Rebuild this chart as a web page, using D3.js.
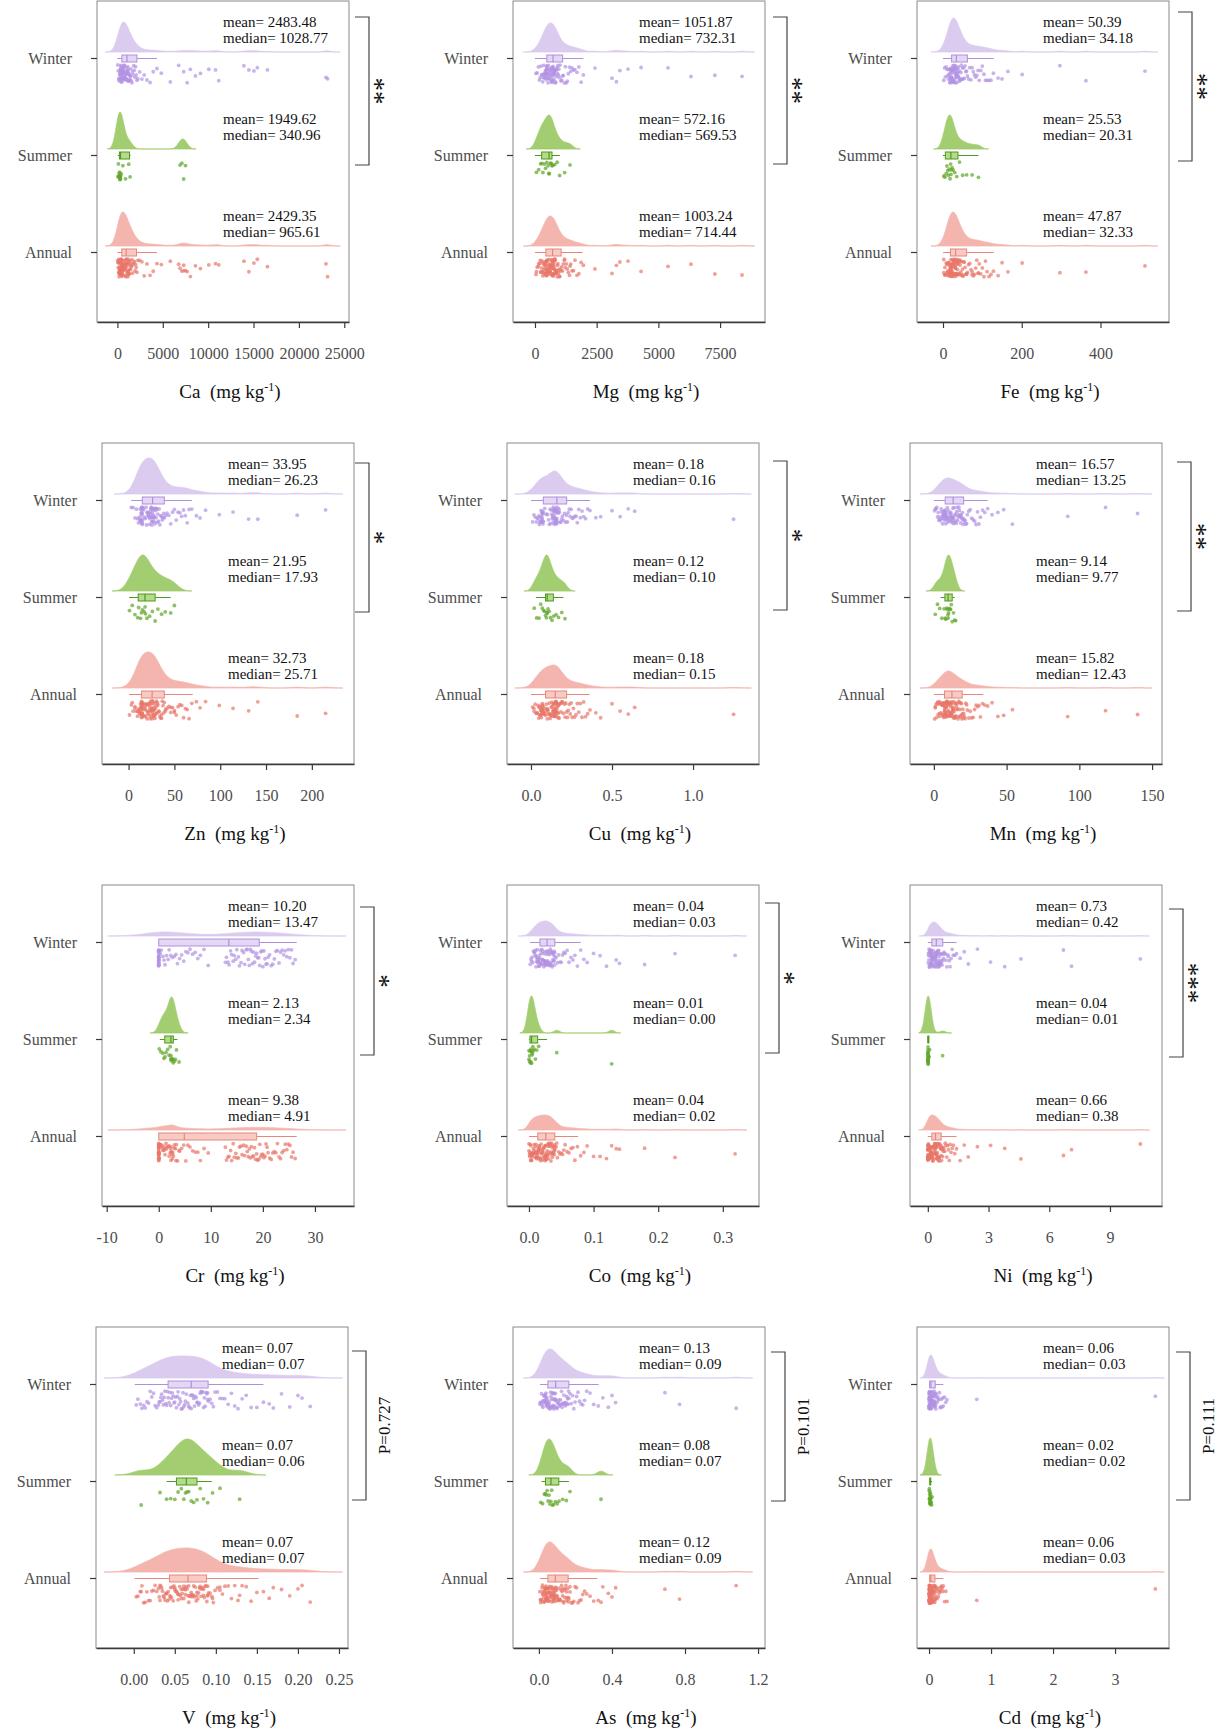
<!DOCTYPE html>
<html>
<head>
<meta charset="utf-8">
<script src="https://cdn.jsdelivr.net/npm/d3@7"></script>
<style>
  body { margin: 0; background: #fff; }
  text { font-family: "Liberation Serif", "Times New Roman", serif; }
</style>
</head>
<body>
<div id="chart"></div>
<script>
// ---------- values ----------
const elements = ["Ca", "Mg", "Fe", "Zn", "Cu", "Mn", "Cr", "Co", "Ni", "V", "As", "Cd"];
const groups = ["Winter", "Summer", "Annual"];
const sigLabels = ["**", "**", "**", "*", "*", "**", "*", "*", "***", "P=0.727", "P=0.101", "P=0.111"];

const meanLabels = [
    ["2483.48", "1949.62", "2429.35"], ["1051.87", "572.16", "1003.24"], ["50.39", "25.53", "47.87"],
    ["33.95", "21.95", "32.73"], ["0.18", "0.12", "0.18"], ["16.57", "9.14", "15.82"],
    ["10.20", "2.13", "9.38"], ["0.04", "0.01", "0.04"], ["0.73", "0.04", "0.66"],
    ["0.07", "0.07", "0.07"], ["0.13", "0.08", "0.12"], ["0.06", "0.02", "0.06"]
];
const medianLabels = [
    ["1028.77", "340.96", "965.61"], ["732.31", "569.53", "714.44"], ["34.18", "20.31", "32.33"],
    ["26.23", "17.93", "25.71"], ["0.16", "0.10", "0.15"], ["13.25", "9.77", "12.43"],
    ["13.47", "2.34", "4.91"], ["0.03", "0.00", "0.02"], ["0.42", "0.01", "0.38"],
    ["0.07", "0.06", "0.07"], ["0.09", "0.07", "0.09"], ["0.03", "0.02", "0.03"]
];

const xTicks = [
    [0, 5000, 10000, 15000, 20000, 25000], [0, 2500, 5000, 7500], [0, 200, 400],
    [0, 50, 100, 150, 200], [0, 0.5, 1.0], [0, 50, 100, 150],
    [-10, 0, 10, 20, 30], [0, 0.1, 0.2, 0.3], [0, 3, 6, 9],
    [0, 0.05, 0.1, 0.15, 0.2, 0.25], [0, 0.4, 0.8, 1.2], [0, 1, 2, 3]
];
const xTickLabels = [
    ["0", "5000", "10000", "15000", "20000", "25000"], ["0", "2500", "5000", "7500"], ["0", "200", "400"],
    ["0", "50", "100", "150", "200"], ["0.0", "0.5", "1.0"], ["0", "50", "100", "150"],
    ["-10", "0", "10", "20", "30"], ["0.0", "0.1", "0.2", "0.3"], ["0", "3", "6", "9"],
    ["0.00", "0.05", "0.10", "0.15", "0.20", "0.25"], ["0.0", "0.4", "0.8", "1.2"], ["0", "1", "2", "3"]
];
const xDomains = [
    [-2250, 25520], [-890, 9320], [-66, 574],
    [-29, 246], [-0.148, 1.407], [-16.4, 156.8],
    [-10.9, 37.5], [-0.034, 0.356], [-0.88, 11.57],
    [-0.046, 0.261], [-0.142, 1.238], [-0.194, 3.87]
];

// box plot stats: [lower whisker, Q1, median, Q3, upper whisker]
const boxWinter = [
    [0, 490, 1050, 2150, 4360], [0, 480, 732, 1120, 1960], [0, 22, 34, 62, 129],
    [3, 15, 26.2, 39, 69], [0, 0.076, 0.16, 0.22, 0.364], [0, 7.8, 13.25, 20.5, 37],
    [0, 0, 13.47, 19.3, 26.5], [0.0015, 0.017, 0.028, 0.040, 0.08], [0, 0.2, 0.42, 0.74, 1.42],
    [0.0012, 0.0418, 0.07, 0.0906, 0.158], [0.006, 0.049, 0.092, 0.164, 0.327], [0, 0.01, 0.03, 0.1, 0.23]
];
const boxSummer = [
    [50, 220, 341, 1330, 1450], [0, 270, 570, 690, 1010], [0, 6, 20, 38, 90],
    [0.5, 10.5, 17.9, 29, 46], [0.03, 0.09, 0.10, 0.138, 0.2], [4.6, 7.6, 9.77, 12.6, 14.3],
    [0.2, 1.15, 2.34, 2.8, 3.6], [0, 0.0015, 0.004, 0.0135, 0.028], [0, 0.004, 0.01, 0.021, 0.04],
    [0.04, 0.052, 0.064, 0.077, 0.095], [0.015, 0.036, 0.066, 0.109, 0.164], [0.003, 0.012, 0.02, 0.027, 0.05]
];
const boxAnnual = [
    [0, 480, 965, 2100, 4360], [0, 440, 714, 1060, 1930], [0, 19, 32, 60, 129],
    [0.5, 14, 25.7, 39, 70], [0, 0.09, 0.15, 0.22, 0.36], [0, 7.3, 12.43, 19.5, 34],
    [0, 0, 4.91, 18.8, 26.5], [0, 0.0136, 0.026, 0.040, 0.076], [0, 0.2, 0.38, 0.66, 1.42],
    [0.001, 0.0435, 0.066, 0.0887, 0.152], [0.006, 0.049, 0.09, 0.16, 0.32], [0, 0.01, 0.03, 0.095, 0.23]
];

// share of winter / summer samples in the annual set
const annualShare = [0.9, 0.1];

// individual samples (annual = winter + summer)
const winterValues = [
    [40, 90, 140, 180, 220, 250, 280, 305, 330, 350, 370, 385, 400, 412, 424, 435, 445, 455, 462, 468, 474, 479, 483, 487, 490,
     510, 530, 550, 570, 590, 610, 630, 650, 670, 690, 710, 730, 750, 770, 790, 810, 830, 850, 875, 900, 925, 950, 980, 1010, 1040,
     1065, 1085, 1105, 1125, 1150, 1175, 1200, 1230, 1260, 1290, 1320, 1360, 1400, 1440, 1490, 1540, 1600, 1660, 1720, 1790, 1860, 1930, 2000, 2070, 2150,
     2250, 2450, 2700, 2950, 3250, 3600, 3950, 4360,
     4840, 5830, 6750, 7300, 7680, 8040, 8600, 9150, 10070, 10810, 11170, 13940, 14490, 15040, 15420, 16530, 22980, 23160],
    [40, 90, 140, 180, 215, 245, 270, 295, 315, 335, 355, 372, 388, 402, 415, 427, 437, 446, 454, 461, 467, 472, 476, 479, 481,
     490, 500, 510, 520, 530, 545, 560, 575, 590, 600, 610, 620, 630, 640, 650, 660, 670, 680, 690, 700, 705, 712, 720, 728, 735,
     742, 750, 758, 766, 774, 782, 790, 800, 810, 820, 830, 842, 855, 868, 882, 897, 913, 930, 950, 972, 995, 1020, 1050, 1085, 1118,
     1150, 1190, 1230, 1270, 1310, 1350, 1400, 1450, 1500, 1560, 1620, 1700, 1780, 1870, 1960,
     2430, 3120, 3300, 3440, 3770, 4300, 5390, 6320, 7290, 8390],
    [2, 4, 6, 8, 10, 11.5, 13, 14, 15, 16, 16.8, 17.5, 18.2, 18.8, 19.3, 19.8, 20.2, 20.6, 21, 21.3, 21.5, 21.7, 21.8, 21.9, 22,
     22.3, 22.8, 23.3, 23.8, 24.3, 24.8, 25.3, 25.8, 26.3, 26.8, 27.3, 27.8, 28.3, 28.8, 29.3, 29.8, 30.3, 30.8, 31.3, 31.8, 32.3, 32.8, 33.3, 33.7, 34,
     34.5, 35, 35.6, 36.2, 36.8, 37.5, 38.2, 39, 39.8, 40.6, 41.5, 42.5, 43.5, 44.5, 45.5, 46.7, 48, 49.5, 51, 52.5, 54, 56, 58, 60, 62,
     65, 68, 71, 74, 77, 80, 83, 86, 89, 92, 96, 100, 104, 108, 112, 117, 122, 128,
     140, 150, 165, 201, 297, 363, 513],
    [3, 5, 7, 8.5, 9.8, 10.8, 11.6, 12.2, 12.7, 13.1, 13.4, 13.7, 13.9, 14.1, 14.3, 14.4, 14.5, 14.6, 14.7, 14.8, 14.85, 14.9, 14.95, 15, 15,
     15.5, 16.5, 17.5, 18.3, 19, 19.6, 20.2, 20.7, 21.2, 21.7, 22.1, 22.5, 22.9, 23.3, 23.6, 23.9, 24.2, 24.5, 24.8, 25.1, 25.4, 25.6, 25.8, 26, 26.2,
     26.4, 26.7, 27, 27.3, 27.6, 27.9, 28.2, 28.5, 28.8, 29.2, 29.6, 30, 30.5, 31, 31.5, 32, 32.7, 33.4, 34.2, 35, 35.9, 36.8, 37.6, 38.3, 39,
     40.5, 42, 44, 46, 48, 50, 52, 54, 56, 58, 60, 62, 64, 66, 69,
     74, 78, 84, 99, 114, 131, 141, 184, 215],
    [0.010, 0.018, 0.026, 0.033, 0.039, 0.044, 0.048, 0.052, 0.055, 0.058, 0.060, 0.062, 0.064, 0.066, 0.067, 0.068, 0.069, 0.070, 0.071, 0.072, 0.073, 0.074, 0.074, 0.075, 0.076,
     0.085, 0.094, 0.102, 0.108, 0.113, 0.118, 0.122, 0.125, 0.128, 0.131, 0.133, 0.135, 0.137, 0.139, 0.140, 0.141, 0.142, 0.143, 0.144, 0.145, 0.146, 0.147, 0.148, 0.149, 0.150,
     0.151, 0.152, 0.153, 0.154, 0.155, 0.156, 0.157, 0.158, 0.159, 0.160, 0.162, 0.164, 0.166, 0.168, 0.170, 0.173, 0.176, 0.180, 0.184, 0.189, 0.194, 0.200, 0.207, 0.214, 0.220,
     0.225, 0.230, 0.236, 0.242, 0.248, 0.255, 0.262, 0.270, 0.278, 0.286, 0.295, 0.305, 0.315, 0.325, 0.337, 0.350, 0.364,
     0.40, 0.43, 0.50, 0.55, 0.60, 0.64, 1.25],
    [0.5, 1, 1.5, 2, 2.5, 3, 3.4, 3.8, 4.2, 4.6, 5, 5.3, 5.6, 5.9, 6.1, 6.3, 6.5, 6.7, 6.9, 7.1, 7.3, 7.4, 7.5, 7.6, 7.7,
     7.9, 8.1, 8.3, 8.5, 8.7, 8.9, 9.1, 9.3, 9.5, 9.8, 10.1, 10.4, 10.7, 11, 11.3, 11.5, 11.7, 11.9, 12.1, 12.3, 12.5, 12.7, 12.9, 13.1, 13.2,
     13.4, 13.6, 13.9, 14.2, 14.5, 14.8, 15.1, 15.4, 15.7, 16, 16.3, 16.6, 16.9, 17.2, 17.5, 17.8, 18.1, 18.4, 18.7, 19, 19.3, 19.6, 19.9, 20.2, 20.5,
     21, 21.5, 22, 22.5, 23, 24, 25, 26, 27, 28, 29, 30, 31, 32, 33.5, 35, 37,
     40, 44, 48, 54, 92, 118, 140],
    [0, 0, 0, 0, 0, 0, 0, 0, 0, 0, 0, 0, 0, 0, 0, 0, 0, 0, 0, 0,
     0.3, 0.5, 0.8, 1.0, 1.2, 1.5, 1.8, 2.0, 2.3, 2.6, 3.0, 3.3, 3.6, 4.0, 4.4, 4.8, 5.2, 5.6, 6.0, 6.5, 7.0, 7.5, 8.0, 8.7, 9.5,
     12.8, 13.0, 13.3, 13.5, 13.8, 14.0, 14.3, 14.5, 14.8, 15.0, 15.3, 15.5, 15.8, 16.0, 16.3, 16.5, 16.8, 17.0, 17.2, 17.4, 17.6, 17.8, 18.0, 18.2, 18.4,
     18.6, 18.8, 19.0, 19.2, 19.4, 19.6, 19.8, 20.0, 20.2, 20.4, 20.6, 20.8, 21.0, 21.3, 21.6, 21.9, 22.2, 22.5, 22.8, 23.1, 23.4, 23.7, 24.0, 24.3, 24.6,
     24.9, 25.2, 25.5, 25.8, 26.2],
    [0.002, 0.003, 0.004, 0.005, 0.006, 0.007, 0.008, 0.009, 0.010, 0.010, 0.011, 0.011, 0.012, 0.012, 0.013, 0.013, 0.014, 0.014, 0.015, 0.015, 0.015, 0.016, 0.016, 0.017, 0.017,
     0.018, 0.018, 0.019, 0.019, 0.020, 0.020, 0.021, 0.021, 0.022, 0.022, 0.023, 0.023, 0.024, 0.024, 0.025, 0.025, 0.025, 0.026, 0.026, 0.026, 0.027, 0.027, 0.027, 0.028, 0.028,
     0.029, 0.029, 0.030, 0.030, 0.031, 0.031, 0.032, 0.032, 0.033, 0.033, 0.034, 0.034, 0.035, 0.035, 0.036, 0.036, 0.037, 0.037, 0.038, 0.038, 0.039, 0.039, 0.040, 0.040, 0.040,
     0.042, 0.044, 0.046, 0.048, 0.050, 0.052, 0.054, 0.056, 0.059, 0.062, 0.065, 0.068, 0.071, 0.075, 0.080,
     0.085, 0.09, 0.10, 0.11, 0.12, 0.135, 0.14, 0.179, 0.226, 0.319],
    [0.02, 0.03, 0.04, 0.05, 0.06, 0.07, 0.08, 0.09, 0.10, 0.11, 0.12, 0.13, 0.14, 0.145, 0.15, 0.155, 0.16, 0.165, 0.17, 0.175, 0.18, 0.185, 0.19, 0.195, 0.2,
     0.21, 0.22, 0.23, 0.24, 0.25, 0.26, 0.27, 0.28, 0.29, 0.30, 0.31, 0.32, 0.33, 0.34, 0.35, 0.36, 0.37, 0.375, 0.38, 0.39, 0.395, 0.40, 0.405, 0.41, 0.415,
     0.43, 0.44, 0.45, 0.46, 0.47, 0.48, 0.49, 0.50, 0.51, 0.52, 0.53, 0.54, 0.55, 0.56, 0.57, 0.58, 0.60, 0.62, 0.64, 0.65, 0.66, 0.68, 0.70, 0.72, 0.74,
     0.77, 0.80, 0.83, 0.86, 0.90, 0.94, 0.98, 1.02, 1.06, 1.10, 1.15, 1.20, 1.26, 1.33, 1.42,
     1.6, 1.8, 2.0, 2.45, 3.1, 3.8, 4.6, 6.7, 7.1, 10.5],
    [0.003, 0.005, 0.008, 0.010, 0.012, 0.014, 0.016, 0.018, 0.020, 0.022, 0.024, 0.026, 0.028, 0.030, 0.031, 0.032, 0.033, 0.034, 0.035, 0.036, 0.037, 0.038, 0.039, 0.040, 0.041,
     0.042, 0.043, 0.044, 0.045, 0.046, 0.047, 0.048, 0.049, 0.050, 0.051, 0.052, 0.053, 0.054, 0.055, 0.056, 0.057, 0.058, 0.059, 0.060, 0.061, 0.062, 0.063, 0.064, 0.066, 0.067,
     0.068, 0.069, 0.070, 0.071, 0.072, 0.073, 0.074, 0.075, 0.076, 0.077, 0.078, 0.079, 0.080, 0.081, 0.082, 0.083, 0.084, 0.085, 0.086, 0.087, 0.088, 0.089, 0.090, 0.090, 0.091,
     0.093, 0.095, 0.097, 0.099, 0.102, 0.105, 0.108, 0.111, 0.115, 0.119, 0.123, 0.127, 0.132, 0.137, 0.143, 0.150, 0.158,
     0.165, 0.170, 0.180, 0.190, 0.200, 0.205, 0.215],
    [0.005, 0.008, 0.011, 0.014, 0.017, 0.020, 0.022, 0.024, 0.026, 0.028, 0.030, 0.032, 0.034, 0.036, 0.037, 0.038, 0.039, 0.040, 0.041, 0.042, 0.043, 0.044, 0.045, 0.046, 0.048,
     0.050, 0.052, 0.054, 0.056, 0.058, 0.060, 0.062, 0.064, 0.066, 0.068, 0.070, 0.072, 0.074, 0.076, 0.078, 0.079, 0.080, 0.082, 0.083, 0.085, 0.086, 0.087, 0.089, 0.090, 0.091,
     0.094, 0.097, 0.100, 0.103, 0.106, 0.109, 0.112, 0.115, 0.118, 0.121, 0.124, 0.127, 0.130, 0.133, 0.136, 0.139, 0.142, 0.145, 0.148, 0.151, 0.154, 0.157, 0.160, 0.162, 0.164,
     0.170, 0.177, 0.184, 0.191, 0.198, 0.206, 0.214, 0.222, 0.231, 0.240, 0.250, 0.262, 0.280, 0.300, 0.325,
     0.35, 0.38, 0.40, 0.42, 0.69, 0.77, 1.08],
    [0.002, 0.002, 0.003, 0.003, 0.004, 0.004, 0.005, 0.005, 0.005, 0.006, 0.006, 0.006, 0.007, 0.007, 0.007, 0.008, 0.008, 0.008, 0.009, 0.009, 0.009, 0.010, 0.010, 0.010, 0.010,
     0.011, 0.012, 0.013, 0.014, 0.015, 0.016, 0.017, 0.018, 0.019, 0.020, 0.021, 0.022, 0.023, 0.024, 0.025, 0.025, 0.026, 0.026, 0.027, 0.027, 0.028, 0.028, 0.029, 0.029, 0.030,
     0.032, 0.035, 0.038, 0.041, 0.044, 0.047, 0.050, 0.053, 0.056, 0.059, 0.062, 0.065, 0.068, 0.071, 0.074, 0.077, 0.080, 0.083, 0.086, 0.089, 0.092, 0.094, 0.096, 0.098, 0.100,
     0.105, 0.11, 0.115, 0.12, 0.13, 0.14, 0.15, 0.16, 0.17, 0.18, 0.19, 0.20, 0.21, 0.22, 0.23,
     0.25, 0.27, 0.29, 0.77, 3.65]
];
const summerValues = [
    [60, 110, 150, 190, 215, 240, 270, 300, 320, 335, 348, 420, 600, 900, 1250, 1400, 6900, 7100, 7300, 7500],
    [60, 150, 230, 280, 320, 380, 430, 480, 530, 560, 580, 620, 660, 690, 720, 800, 900, 1000, 1200, 1420],
    [2, 5, 8, 10, 12, 14, 16, 18, 19.5, 20.3, 21, 23, 26, 30, 35, 42, 50, 60, 74, 90],
    [1, 4, 7, 10, 11, 13, 14, 15, 17, 18, 18.5, 20, 23, 26, 29, 32, 36, 40, 46, 50],
    [0.02, 0.035, 0.05, 0.06, 0.07, 0.078, 0.085, 0.09, 0.095, 0.10, 0.10, 0.105, 0.112, 0.12, 0.13, 0.14, 0.155, 0.17, 0.19, 0.21],
    [1.0, 2.5, 4, 5.5, 7, 7.8, 8.3, 8.8, 9.3, 9.7, 9.85, 10.1, 10.5, 11, 11.5, 12, 12.6, 13.5, 14.3, 15],
    [0.1, 0.4, 0.8, 1.0, 1.2, 1.4, 1.7, 2.0, 2.2, 2.3, 2.35, 2.4, 2.5, 2.6, 2.7, 2.8, 3.0, 3.2, 3.4, 3.9],
    [0, 0, 0.001, 0.001, 0.002, 0.002, 0.003, 0.003, 0.004, 0.004, 0.005, 0.005, 0.006, 0.007, 0.008, 0.010, 0.012, 0.015, 0.043, 0.128],
    [0.001, 0.002, 0.003, 0.004, 0.005, 0.006, 0.007, 0.008, 0.009, 0.010, 0.011, 0.012, 0.015, 0.02, 0.025, 0.03, 0.04, 0.06, 0.09, 0.73],
    [0.009, 0.032, 0.040, 0.045, 0.050, 0.054, 0.058, 0.061, 0.063, 0.065, 0.067, 0.070, 0.073, 0.077, 0.081, 0.085, 0.090, 0.096, 0.105, 0.129],
    [0.01, 0.02, 0.03, 0.035, 0.04, 0.045, 0.05, 0.055, 0.06, 0.065, 0.07, 0.075, 0.08, 0.09, 0.10, 0.11, 0.13, 0.15, 0.17, 0.34],
    [0.003, 0.005, 0.007, 0.009, 0.01, 0.012, 0.013, 0.015, 0.016, 0.018, 0.019, 0.02, 0.022, 0.024, 0.026, 0.028, 0.03, 0.035, 0.04, 0.05]
];

// ---------- layout ----------
const PANEL_W = 252;
const PANEL_H = 321;
const panelLeft = [97, 513, 917, 102, 507, 910, 102, 507, 910, 96, 513, 917];
const panelTop = [1, 1, 1, 443, 443, 443, 885, 885, 885, 1327, 1327, 1327];
// bracket: x of vertical line, top y, bottom y
const brackets = [
    [369, 17, 165], [787, 17, 164], [1192, 12, 161],
    [369, 463, 612], [787, 461, 610], [1191, 462, 611],
    [374, 907, 1055], [779, 903, 1053], [1183, 909, 1057],
    [366, 1351, 1500], [785, 1352, 1501], [1190, 1352, 1500]
];
// peak height (px) of each half-violin, winter / summer / annual
const violinHeight = [
    [30, 37, 34], [29, 34, 30], [34, 34, 34],
    [36, 36, 36], [23, 36, 23], [16, 36, 17],
    [4, 36, 5], [15, 37, 15], [14, 37, 15],
    [22, 36, 24], [29, 36, 30], [23, 37, 23]
];

// colours: winter, summer, annual
const DENSITY_COLOR = ["#dacbef", "#a2cd70", "#f3b5ad"];
const POINT_COLOR = ["#b293e2", "#5ea527", "#e8766a"];
const BOX_FILL = ["#e3d7f5", "#b5da8c", "#f8cac4"];
const BOX_STROKE = ["#b08fdc", "#4e9a1c", "#e6877d"];
const TEXT_GREY = "#4d4d4d";

// gaussian kernel density (R nrd0 bandwidth with a small floor, cut = 3)
function makeKde(values, minBw) {
    var v = values.slice().sort(d3.ascending);
    var sd = d3.deviation(v) || 0;
    var iqr = d3.quantile(v, 0.75) - d3.quantile(v, 0.25);
    var s = Math.min(sd, iqr / 1.34);
    if (!(s > 0)) s = sd > 0 ? sd : minBw;
    var bw = Math.max(minBw, 0.9 * s * Math.pow(v.length, -0.2));
    var f = function (t) {
        var sum = 0;
        for (var i = 0; i < v.length; i++) {
            var u = (t - v[i]) / bw;
            sum += Math.exp(-0.5 * u * u);
        }
        return sum / (v.length * bw * Math.sqrt(2 * Math.PI));
    };
    return { f: f, lo: v[0] - 3 * bw, hi: v[v.length - 1] + 3 * bw };
}

function sampleCurve(f, lo, hi) {
    var n = 400, out = [];
    for (var i = 0; i <= n; i++) {
        var t = lo + (hi - lo) * i / n;
        out.push([t, f(t)]);
    }
    return out;
}

// fixed vertical jitter for the rain points
function jitter(i, gi, p) {
    var s = Math.sin(i * 127.1 + gi * 311.7 + p * 74.7) * 43758.5453;
    return s - Math.floor(s);
}

var svg = d3.select("#chart")
    .append("svg")
    .attr("width", 1222)
    .attr("height", 1729)
    .style("background", "white");

elements.forEach(function (el, p) {
    var g = svg.append("g")
        .attr("transform", `translate(${panelLeft[p]},${panelTop[p]})`);

    var x = d3.scaleLinear().domain(xDomains[p]).range([0, PANEL_W]);
    var y = d3.scalePoint().domain(groups).range([57, 251]);

    g.append("clipPath").attr("id", "clip" + p)
        .append("rect").attr("width", PANEL_W).attr("height", PANEL_H);

    g.append("rect")
        .attr("width", PANEL_W)
        .attr("height", PANEL_H)
        .attr("fill", "white")
        .attr("stroke", "#8a8a8a")
        .attr("stroke-width", 1);

    var plot = g.append("g").attr("clip-path", `url(#clip${p})`);

    var minBw = 0.012 * (xDomains[p][1] - xDomains[p][0]);
    var kW = makeKde(winterValues[p], minBw);
    var kS = makeKde(summerValues[p], minBw);
    var curves = [
        sampleCurve(kW.f, kW.lo, kW.hi),
        sampleCurve(kS.f, kS.lo, kS.hi),
        sampleCurve(function (t) { return annualShare[0] * kW.f(t) + annualShare[1] * kS.f(t); },
            Math.min(kW.lo, kS.lo), Math.max(kW.hi, kS.hi))
    ];

    var samples = [winterValues[p], summerValues[p], winterValues[p].concat(summerValues[p])];
    var boxes = [boxWinter[p], boxSummer[p], boxAnnual[p]];

    groups.forEach(function (grp, gi) {
        var cy = y(grp);
        var base = cy - 6;
        var h = d3.scaleLinear()
            .domain([0, d3.max(curves[gi], d => d[1])])
            .range([0, violinHeight[p][gi]]);

        plot.append("path")
            .datum(curves[gi])
            .attr("fill", DENSITY_COLOR[gi])
            .attr("stroke", DENSITY_COLOR[gi])
            .attr("stroke-width", 0.8)
            .attr("d", d3.area()
                .x(d => x(d[0]))
                .y0(base)
                .y1(d => base - h(d[1])));

        // box plot
        var b = boxes[gi];
        var bx = plot.append("g");
        bx.append("line")
            .attr("x1", x(b[0])).attr("x2", x(b[1]))
            .attr("y1", cy + 0.5).attr("y2", cy + 0.5)
            .attr("stroke", BOX_STROKE[gi]).attr("stroke-width", 1);
        bx.append("line")
            .attr("x1", x(b[3])).attr("x2", x(b[4]))
            .attr("y1", cy + 0.5).attr("y2", cy + 0.5)
            .attr("stroke", BOX_STROKE[gi]).attr("stroke-width", 1);
        bx.append("rect")
            .attr("x", x(b[1]))
            .attr("y", cy - 3)
            .attr("width", Math.max(1, x(b[3]) - x(b[1])))
            .attr("height", 7)
            .attr("fill", BOX_FILL[gi])
            .attr("stroke", BOX_STROKE[gi])
            .attr("stroke-width", 1);
        bx.append("line")
            .attr("x1", x(b[2])).attr("x2", x(b[2]))
            .attr("y1", cy - 3).attr("y2", cy + 4)
            .attr("stroke", BOX_STROKE[gi]).attr("stroke-width", 1.2);

        // jittered samples below the box
        plot.selectAll(".pt" + gi)
            .data(samples[gi])
            .enter()
            .append("circle")
            .attr("class", "pt" + gi)
            .attr("cx", d => x(d))
            .attr("cy", (d, i) => cy + 7 + 18 * jitter(i, gi, p))
            .attr("r", 1.9)
            .attr("fill", POINT_COLOR[gi])
            .attr("fill-opacity", 0.7);

        // mean / median labels
        g.append("text")
            .attr("x", 126)
            .attr("y", cy - 31)
            .attr("font-size", 15)
            .attr("fill", "#111")
            .text("mean= " + meanLabels[p][gi]);
        g.append("text")
            .attr("x", 126)
            .attr("y", cy - 15)
            .attr("font-size", 15)
            .attr("fill", "#111")
            .text("median= " + medianLabels[p][gi]);
    });

    // x axis
    var xa = g.append("g")
        .attr("transform", `translate(0,${PANEL_H})`)
        .call(d3.axisBottom(x)
            .tickValues(xTicks[p])
            .tickFormat((d, i) => xTickLabels[p][i])
            .tickSize(6)
            .tickSizeOuter(0)
            .tickPadding(20));
    xa.select(".domain").attr("stroke", "#3a3a3a").attr("stroke-width", 1.6);
    xa.selectAll(".tick line").attr("stroke", "#3a3a3a").attr("stroke-width", 1.2);
    xa.selectAll(".tick text")
        .attr("font-family", "Liberation Serif, Times New Roman, serif")
        .attr("font-size", 16)
        .attr("fill", TEXT_GREY);

    // y axis
    var ya = g.append("g")
        .call(d3.axisLeft(y).tickSize(6).tickSizeOuter(0).tickPadding(19));
    ya.select(".domain").remove();
    ya.selectAll(".tick line").attr("stroke", "#3a3a3a").attr("stroke-width", 1.2);
    ya.selectAll(".tick text")
        .attr("font-family", "Liberation Serif, Times New Roman, serif")
        .attr("font-size", 16)
        .attr("fill", TEXT_GREY);

    // axis title
    var title = g.append("text")
        .attr("x", PANEL_W / 2 + 7)
        .attr("y", PANEL_H + 76)
        .attr("text-anchor", "middle")
        .attr("font-size", 19)
        .attr("fill", "#111");
    title.append("tspan").text(el + "\u00a0\u00a0(mg kg");
    title.append("tspan").attr("font-size", 12).attr("dy", -7).text("-1");
    title.append("tspan").attr("dy", 7).text(")");

    // significance bracket
    var br = brackets[p];
    svg.append("path")
        .attr("d", `M${br[0] - 14},${br[1]}H${br[0]}V${br[2]}H${br[0] - 14}`)
        .attr("fill", "none")
        .attr("stroke", "#444")
        .attr("stroke-width", 1.2);

    var isP = sigLabels[p].startsWith("P");
    var fs = isP ? 17 : 27;
    // baseline sits right of the glyph centre once rotated
    var bx0 = isP ? br[0] + 18 + 0.33 * fs : br[0] + 10 + 0.48 * fs;
    svg.append("text")
        .attr("transform", `translate(${bx0},${(br[1] + br[2]) / 2}) rotate(-90)`)
        .attr("text-anchor", "middle")
        .attr("font-size", fs)
        .attr("fill", "#111")
        .text(sigLabels[p]);
});
</script>
</body>
</html>
